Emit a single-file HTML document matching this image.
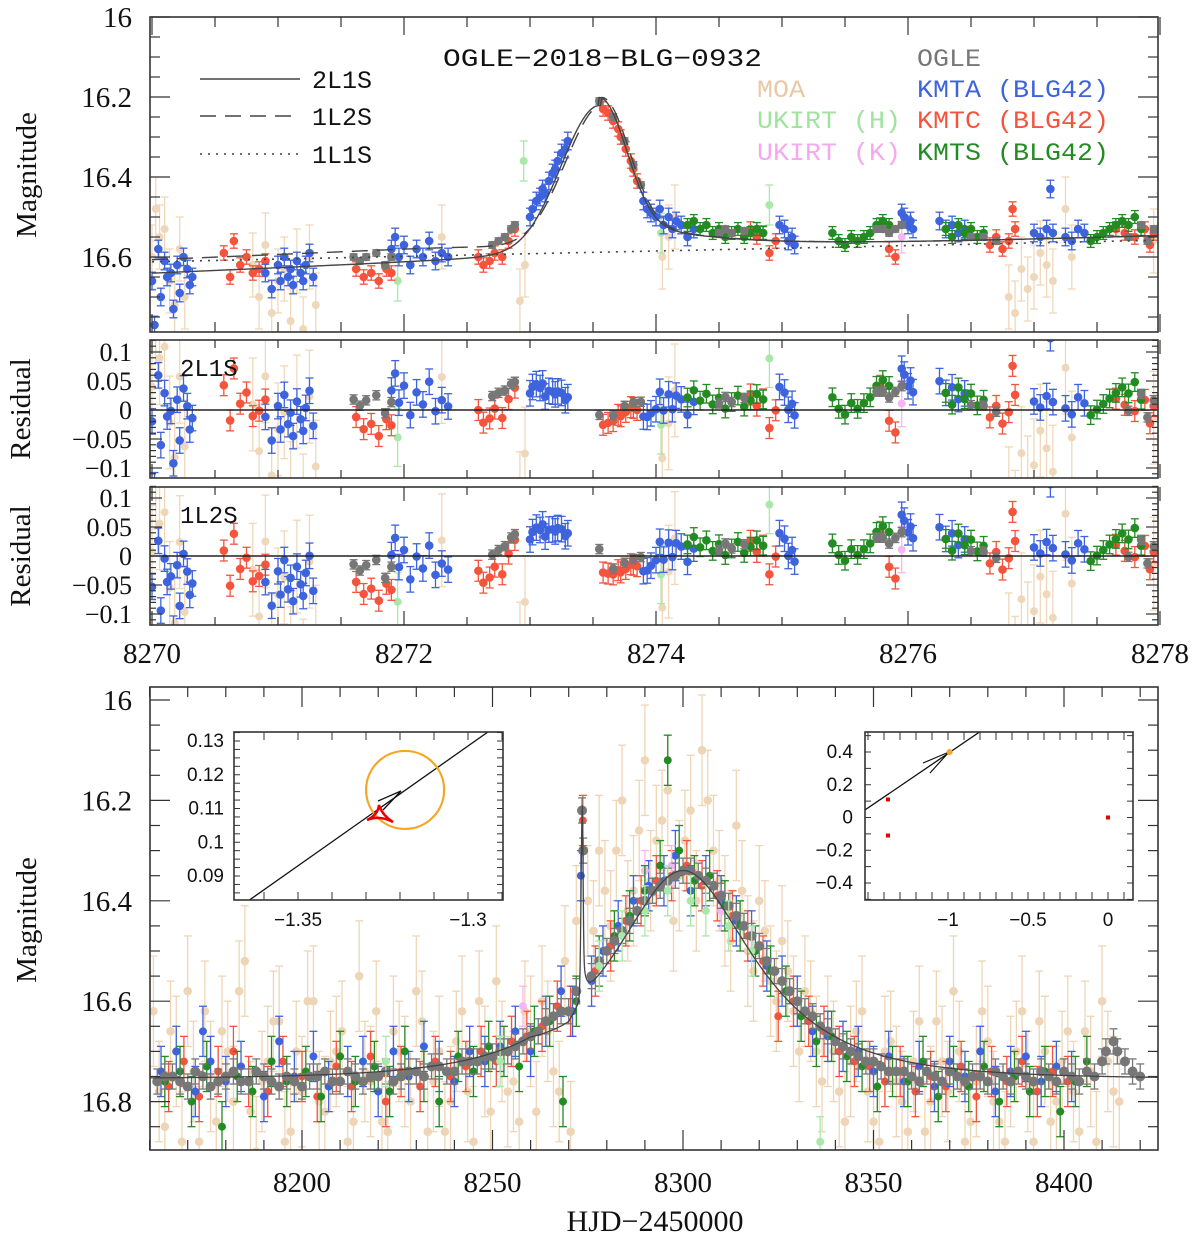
<!DOCTYPE html>
<html><head><meta charset="utf-8"><style>
html,body{margin:0;padding:0;background:#fff;}
svg{display:block;font-family:"Liberation Serif",serif;}
</style></head><body>
<svg id="fig" width="1200" height="1238" viewBox="0 0 1200 1238" xmlns="http://www.w3.org/2000/svg">
<defs>
<clipPath id="cTop"><rect x="150" y="17" width="1008" height="315"/></clipPath>
<clipPath id="cR1"><rect x="150" y="340" width="1008" height="138"/></clipPath>
<clipPath id="cR2"><rect x="150" y="487" width="1008" height="138"/></clipPath>
<clipPath id="cBot"><rect x="150" y="687" width="1008" height="463"/></clipPath>
<clipPath id="cIn1"><rect x="234" y="732" width="269" height="168"/></clipPath>
<clipPath id="cIn2"><rect x="865" y="732" width="268" height="168"/></clipPath>
</defs>
<g id="layers"></g>
</svg>
<script>
// ---------- data: top zoom panel (HJD-2450000, magnitude) ----------
const topOGLE=[[8271.6,16.6],[8271.65,16.61],[8271.7,16.6],[8271.78,16.59],[8271.85,16.62],[8271.9,16.6],[8272.7,16.57],[8272.75,16.56],[8272.8,16.55],[8272.85,16.53],[8272.88,16.52],[8273.55,16.21],[8273.66,16.25],[8273.75,16.31],[8273.82,16.37],[8273.88,16.42],[8274.5,16.54],[8274.55,16.53],[8274.6,16.54],[8274.7,16.535],[8275.75,16.53],[8275.8,16.53],[8275.85,16.54],[8275.9,16.53],[8275.95,16.52],[8276.5,16.55],[8276.6,16.55],[8276.7,16.56],[8277.75,16.55],[8277.85,16.52],[8277.9,16.56],[8277.95,16.53]];
const topMOA=[[8270.0,16.6],[8270.03,16.48],[8270.06,16.55],[8270.1,16.53],[8270.14,16.66],[8270.18,16.72],[8270.22,16.58],[8270.26,16.7],[8270.8,16.62],[8270.85,16.7],[8270.9,16.57],[8270.95,16.74],[8271.0,16.66],[8271.05,16.63],[8271.1,16.76],[8271.15,16.61],[8271.2,16.78],[8271.25,16.6],[8271.3,16.72],[8272.3,16.55],[8272.92,16.71],[8272.96,16.62],[8274.05,16.6],[8274.1,16.55],[8274.15,16.5],[8276.8,16.7],[8276.85,16.74],[8276.9,16.63],[8276.95,16.68],[8277.0,16.65],[8277.05,16.59],[8277.1,16.62],[8277.15,16.66],[8277.25,16.48],[8277.3,16.6],[8277.95,16.56],[8278.0,16.52]];
const topKMTA=[[8270.0,16.66],[8270.02,16.77],[8270.05,16.58],[8270.07,16.7],[8270.1,16.61],[8270.12,16.65],[8270.15,16.64],[8270.17,16.73],[8270.2,16.62],[8270.22,16.69],[8270.25,16.6],[8270.28,16.63],[8270.3,16.67],[8270.32,16.65],[8270.9,16.64],[8270.95,16.68],[8271.0,16.62],[8271.02,16.66],[8271.05,16.6],[8271.08,16.65],[8271.1,16.63],[8271.12,16.67],[8271.15,16.61],[8271.18,16.64],[8271.2,16.66],[8271.22,16.62],[8271.25,16.59],[8271.28,16.65],[8271.9,16.58],[8271.93,16.55],[8271.96,16.6],[8272.0,16.57],[8272.05,16.62],[8272.1,16.58],[8272.15,16.6],[8272.2,16.56],[8272.25,16.61],[8272.3,16.59],[8272.35,16.6],[8273.0,16.5],[8273.02,16.48],[8273.05,16.46],[8273.08,16.45],[8273.1,16.43],[8273.12,16.44],[8273.15,16.41],[8273.18,16.39],[8273.2,16.38],[8273.22,16.36],[8273.25,16.34],[8273.28,16.33],[8273.3,16.31],[8273.9,16.46],[8273.93,16.48],[8273.96,16.49],[8274.0,16.5],[8274.03,16.48],[8274.06,16.52],[8274.1,16.5],[8274.13,16.53],[8274.16,16.51],[8274.2,16.52],[8274.25,16.55],[8274.3,16.53],[8274.98,16.52],[8275.02,16.53],[8275.05,16.56],[8275.08,16.55],[8275.1,16.57],[8275.95,16.49],[8275.97,16.5],[8276.0,16.52],[8276.02,16.51],[8276.04,16.53],[8276.25,16.51],[8276.3,16.53],[8276.35,16.52],[8276.4,16.54],[8276.45,16.53],[8277.0,16.54],[8277.05,16.55],[8277.1,16.53],[8277.15,16.54],[8277.13,16.43],[8277.25,16.55],[8277.3,16.56],[8277.35,16.53],[8277.4,16.54]];
const topKMTC=[[8270.57,16.59],[8270.62,16.65],[8270.65,16.56],[8270.7,16.62],[8270.75,16.6],[8270.8,16.64],[8270.85,16.63],[8270.9,16.61],[8271.62,16.63],[8271.68,16.65],[8271.74,16.64],[8271.8,16.66],[8271.86,16.63],[8271.9,16.64],[8272.59,16.6],[8272.63,16.62],[8272.68,16.61],[8272.72,16.59],[8272.78,16.6],[8272.83,16.56],[8272.88,16.53],[8273.58,16.23],[8273.62,16.24],[8273.66,16.26],[8273.7,16.28],[8273.72,16.3],[8273.76,16.33],[8273.8,16.36],[8273.82,16.38],[8273.85,16.41],[8274.75,16.53],[8274.8,16.55],[8274.85,16.54],[8274.9,16.59],[8274.95,16.56],[8275.78,16.52],[8275.85,16.58],[8275.9,16.6],[8276.65,16.57],[8276.7,16.55],[8276.75,16.58],[8276.8,16.56],[8276.83,16.48],[8276.85,16.53],[8277.65,16.53],[8277.72,16.54],[8277.8,16.55],[8277.88,16.53],[8277.92,16.57],[8277.95,16.54]];
const topKMTS=[[8274.25,16.52],[8274.3,16.51],[8274.35,16.53],[8274.4,16.52],[8274.45,16.54],[8274.5,16.53],[8274.55,16.55],[8274.6,16.54],[8274.65,16.53],[8274.7,16.55],[8274.75,16.54],[8274.8,16.53],[8274.85,16.54],[8275.4,16.54],[8275.45,16.56],[8275.5,16.57],[8275.55,16.55],[8275.6,16.56],[8275.65,16.55],[8275.7,16.54],[8275.75,16.52],[8275.8,16.51],[8275.85,16.52],[8276.3,16.53],[8276.35,16.55],[8276.4,16.52],[8276.45,16.54],[8276.5,16.53],[8276.55,16.55],[8276.6,16.54],[8277.45,16.56],[8277.5,16.55],[8277.55,16.54],[8277.6,16.53],[8277.65,16.52],[8277.7,16.51],[8277.75,16.52],[8277.8,16.5],[8277.85,16.53]];
const topUKH=[[8271.95,16.66],[8272.95,16.36],[8274.04,16.54],[8274.9,16.47]];
const topUKK=[[8275.95,16.55]];
// ---------- data: full season panel ----------
const botOGLE=[[8162,16.76],[8166,16.75],[8170,16.77],[8174,16.75],[8178,16.76],[8182,16.74],[8186,16.76],[8190,16.75],[8194,16.77],[8198,16.76],[8202,16.75],[8206,16.74],[8210,16.76],[8214,16.75],[8218,16.75],[8222,16.74],[8226,16.75],[8230,16.74],[8234,16.73],[8238,16.74],[8242,16.72],[8246,16.72],[8250,16.71],[8254,16.70],[8258,16.68],[8262,16.66],[8266,16.63],[8270,16.62],[8273.5,16.22],[8276,16.55],[8280,16.50],[8284,16.46],[8288,16.42],[8292,16.38],[8296,16.36],[8300,16.34],[8304,16.35],[8308,16.37],[8312,16.41],[8316,16.45],[8320,16.49],[8324,16.54],[8328,16.58],[8332,16.62],[8336,16.65],[8340,16.68],[8344,16.70],[8348,16.72],[8352,16.73],[8356,16.74],[8360,16.75],[8364,16.74],[8368,16.76],[8372,16.75],[8376,16.75],[8380,16.76],[8384,16.75],[8388,16.74],[8392,16.76],[8396,16.75],[8400,16.74],[8404,16.76],[8408,16.75],[8411,16.70],[8413,16.68],[8416,16.72],[8420,16.75]];
const botOGLE2=[[8164,16.75],[8168,16.76],[8172,16.74],[8176,16.77],[8180,16.75],[8184,16.76],[8188,16.74],[8192,16.76],[8196,16.75],[8200,16.77],[8204,16.75],[8208,16.76],[8212,16.74],[8216,16.76],[8220,16.75],[8224,16.76],[8228,16.74],[8232,16.75],[8236,16.73],[8240,16.74],[8244,16.72],[8248,16.71],[8252,16.70],[8256,16.69],[8260,16.67],[8264,16.64],[8268,16.62],[8272,16.58],[8273.8,16.3],[8278,16.52],[8282,16.48],[8286,16.44],[8290,16.40],[8294,16.37],[8298,16.35],[8302,16.34],[8306,16.36],[8310,16.39],[8314,16.43],[8318,16.47],[8322,16.52],[8326,16.56],[8330,16.60],[8334,16.63],[8338,16.66],[8342,16.69],[8346,16.71],[8350,16.72],[8354,16.74],[8358,16.74],[8362,16.76],[8366,16.75],[8370,16.74],[8374,16.76],[8378,16.75],[8382,16.74],[8386,16.76],[8390,16.75],[8394,16.74],[8398,16.76],[8402,16.75],[8406,16.74],[8410,16.72],[8414,16.70],[8418,16.74]];
const botMOA=[[8161,16.62],[8164,16.85],[8167,16.70],[8170,16.58],[8173,16.88],[8176,16.75],[8179,16.66],[8182,16.80],[8185,16.52],[8188,16.90],[8191,16.72],[8194,16.64],[8197,16.86],[8200,16.78],[8203,16.60],[8206,16.82],[8209,16.70],[8212,16.88],[8215,16.55],[8218,16.76],[8221,16.84],[8224,16.66],[8227,16.74],[8230,16.58],[8233,16.86],[8236,16.70],[8239,16.80],[8242,16.62],[8245,16.88],[8248,16.72],[8251,16.56],[8254,16.78],[8257,16.84],[8260,16.66],[8263,16.60],[8266,16.74],[8269,16.52],[8272,16.44],[8275,16.40],[8278,16.30],[8281,16.45],[8284,16.20],[8287,16.38],[8290,16.12],[8293,16.28],[8296,16.18],[8299,16.35],[8302,16.22],[8305,16.10],[8308,16.30],[8311,16.42],[8314,16.25],[8317,16.50],[8320,16.40],[8323,16.56],[8326,16.48],[8329,16.62],[8332,16.58],[8335,16.70],[8338,16.66],[8341,16.78],[8344,16.72],[8347,16.62],[8350,16.84],[8353,16.70],[8356,16.76],[8359,16.86],[8362,16.64],[8365,16.80],[8368,16.72],[8371,16.58],[8374,16.88],[8377,16.76],[8380,16.68],[8383,16.84],[8386,16.74],[8389,16.62],[8392,16.88],[8395,16.70],[8398,16.80],[8401,16.66],[8404,16.86],[8407,16.74],[8410,16.60],[8413,16.78]];
const botMOA2=[[8162.5,16.78],[8165.5,16.66],[8168.5,16.88],[8171.5,16.74],[8174.5,16.62],[8177.5,16.84],[8180.5,16.70],[8183.5,16.58],[8186.5,16.82],[8189.5,16.76],[8192.5,16.64],[8195.5,16.88],[8198.5,16.70],[8201.5,16.60],[8204.5,16.80],[8207.5,16.72],[8210.5,16.66],[8213.5,16.84],[8216.5,16.74],[8219.5,16.62],[8222.5,16.86],[8225.5,16.70],[8228.5,16.80],[8231.5,16.64],[8234.5,16.76],[8237.5,16.86],[8240.5,16.68],[8243.5,16.78],[8246.5,16.60],[8249.5,16.82],[8252.5,16.70],[8255.5,16.76],[8258.5,16.62],[8261.5,16.82],[8264.5,16.66],[8267.5,16.78],[8270.5,16.86],[8276.5,16.46],[8279.5,16.38],[8282.5,16.30],[8285.5,16.42],[8288.5,16.26],[8291.5,16.36],[8294.5,16.24],[8297.5,16.44],[8300.5,16.28],[8303.5,16.40],[8306.5,16.20],[8309.5,16.36],[8312.5,16.48],[8315.5,16.38],[8318.5,16.54],[8321.5,16.46],[8324.5,16.60],[8327.5,16.54],[8330.5,16.70],[8333.5,16.62],[8336.5,16.76],[8339.5,16.70],[8342.5,16.84],[8345.5,16.66],[8348.5,16.78],[8351.5,16.88],[8354.5,16.68],[8357.5,16.80],[8360.5,16.72],[8363.5,16.86],[8366.5,16.64],[8369.5,16.78],[8372.5,16.70],[8375.5,16.84],[8378.5,16.62],[8381.5,16.80],[8384.5,16.88],[8387.5,16.70],[8390.5,16.76],[8393.5,16.64],[8396.5,16.84],[8399.5,16.72],[8402.5,16.78],[8405.5,16.66],[8408.5,16.88],[8411.5,16.72],[8414.5,16.80]];
const botKMTA=[[8163,16.74],[8167,16.70],[8172,16.78],[8174,16.66],[8176,16.72],[8180,16.76],[8184,16.73],[8190,16.79],[8194,16.68],[8198,16.75],[8203,16.71],[8207,16.77],[8212,16.74],[8216,16.72],[8220,16.78],[8224,16.70],[8228,16.75],[8232,16.69],[8236,16.73],[8240,16.76],[8244,16.70],[8248,16.72],[8252,16.69],[8256,16.66],[8260,16.70],[8264,16.64],[8268,16.58],[8271,16.62],[8273.2,16.35],[8276,16.56],[8279,16.50],[8283,16.45],[8287,16.40],[8291,16.37],[8295,16.36],[8298,16.31],[8302,16.38],[8306,16.36],[8310,16.40],[8314,16.44],[8318,16.47],[8322,16.53],[8326,16.56],[8330,16.60],[8334,16.66],[8338,16.67],[8342,16.69],[8346,16.70],[8350,16.74],[8354,16.71],[8358,16.76],[8362,16.73],[8366,16.77],[8370,16.72],[8374,16.75],[8378,16.70],[8382,16.78],[8386,16.74],[8390,16.71],[8394,16.76],[8398,16.73],[8402,16.75]];
const botKMTC=[[8165,16.77],[8169,16.72],[8173,16.79],[8178,16.74],[8182,16.70],[8186,16.76],[8191,16.78],[8195,16.72],[8200,16.75],[8204,16.79],[8209,16.73],[8213,16.77],[8218,16.71],[8222,16.80],[8226,16.74],[8231,16.77],[8235,16.72],[8239,16.75],[8243,16.73],[8247,16.70],[8251,16.72],[8255,16.68],[8259,16.67],[8263,16.65],[8267,16.61],[8270.5,16.62],[8273.7,16.24],[8277,16.54],[8281,16.49],[8285,16.44],[8289,16.40],[8293,16.36],[8297,16.35],[8301,16.33],[8305,16.37],[8309,16.39],[8313,16.43],[8317,16.47],[8321,16.52],[8325,16.63],[8329,16.60],[8333,16.64],[8337,16.66],[8341,16.70],[8345,16.72],[8349,16.73],[8353,16.76],[8357,16.74],[8361,16.78],[8365,16.75],[8369,16.77],[8373,16.73],[8377,16.79],[8381,16.74],[8385,16.76],[8389,16.72],[8393,16.78],[8397,16.74],[8401,16.76]];
const botKMTS=[[8164,16.76],[8168,16.74],[8171,16.80],[8175,16.73],[8179,16.85],[8183,16.75],[8187,16.78],[8192,16.72],[8196,16.76],[8201,16.74],[8205,16.79],[8210,16.71],[8214,16.76],[8219,16.73],[8223,16.78],[8227,16.70],[8232,16.75],[8236,16.80],[8241,16.71],[8245,16.74],[8249,16.69],[8253,16.70],[8257,16.73],[8261,16.66],[8265,16.64],[8268.5,16.80],[8272,16.60],[8278,16.52],[8282,16.47],[8286,16.43],[8290,16.38],[8294,16.33],[8296,16.12],[8299,16.30],[8303,16.36],[8307,16.35],[8311,16.41],[8315,16.45],[8319,16.50],[8323,16.54],[8327,16.58],[8331,16.63],[8335,16.68],[8339,16.67],[8343,16.71],[8347,16.73],[8351,16.77],[8355,16.74],[8359,16.76],[8363,16.72],[8367,16.79],[8371,16.74],[8375,16.77],[8379,16.73],[8383,16.80],[8387,16.75],[8391,16.78],[8395,16.74],[8399,16.82],[8403,16.76],[8406,16.72]];
const botUKH=[[8222,16.72],[8252,16.72],[8278,16.53],[8284,16.47],[8290,16.42],[8296,16.38],[8302,16.40],[8306,16.42],[8312,16.45],[8318,16.50],[8336,16.88]];
const botUKK=[[8258,16.61],[8290,16.34],[8297,16.33],[8303,16.36],[8310,16.42]];
// tick labels
const topYTicks=[16,16.2,16.4,16.6];
const resTicks=[0.1,0.05,0,-0.05,-0.1];
const topXTicks=[8270,8272,8274,8276,8278];
const botXTicks=[8200,8250,8300,8350,8400];
const botYTicks=[16,16.2,16.4,16.6,16.8];
const in1XTicks=[-1.35,-1.3];
const in1YTicks=[0.13,0.12,0.11,0.1,0.09];
const in2XTicks=[-1,-0.5,0];
const in2YTicks=[0.4,0.2,0,-0.2,-0.4];
const in2Caustic=[[-1.375,0.11],[-1.375,-0.11],[0,0]];

// ---------- models ----------
function pacA(u){return (u*u+2)/(u*Math.sqrt(u*u+4));}
function broadE(t){const d=(t-8300)/31;const u=Math.sqrt(0.36+d*d);return 0.527*(pacA(u)-1);}
function corr(t){return t<8270?-0.025*Math.max(0,1-(8270-t)/10):-0.025*Math.max(0,1-(t-8270)/4);}
function lor(d,w,a){return a/(1+(d/w)*(d/w));}
function gau(d,s,a){return a*Math.exp(-d*d/(2*s*s));}
function bump2(t){const d=t-8273.55;return d<0?gau(d,0.286,0.423)+lor(d,0.3,0.05):gau(d,0.2,0.423)+lor(d,0.8,0.08);}
function bump1(t){const d=t-8273.57;return d<0?gau(d,0.28,0.42)+lor(d,0.25,0.05):gau(d,0.2,0.42)+lor(d,0.8,0.08);}
function m2L1S(t){return 16.755-2.5*Math.log10(1+broadE(t)+corr(t)+bump2(t));}
function m1L2S(t){return 16.755-2.5*Math.log10(1+broadE(t)+corr(t)+0.035/(1+Math.exp((t-8273.0)/0.25))+bump1(t));}
function m1L1S(t){return 16.612-0.00675*(t-8270);}

// ---------- scales ----------
const xT=t=>152+(t-8270)*126;
const yT=m=>17+(m-16)*400;
const yR1=r=>410-r*580;
const yR2=r=>556-r*580;
const xB=t=>302+(t-8200)*3.81;
const yB=m=>700+(m-16)*502;
const xI1=v=>298+(v+1.35)*3400;
const yI1=v=>741-(v-0.13)*3375;
const xI2=v=>948+(v+1)*160;
const yI2=v=>817.5-v*163.75;

const NS='http://www.w3.org/2000/svg';
const root=document.getElementById('layers');
function el(tag,attrs,parent){const e=document.createElementNS(NS,tag);for(const k in attrs)e.setAttribute(k,attrs[k]);(parent||root).appendChild(e);return e;}
function grp(name){const g=el('g',{});


return g;}

const COL={OGLE:'#777777',MOA:'#eed3b3',KMTA:'#3d63dd',KMTC:'#f5543c',KMTS:'#228b22',UKH:'#a9e8a9',UKK:'#f7b6f3'};

function drawPts(g,data,xf,yf,valf,col,err,r,op){
  for(const p of data){
    const x=xf(p[0]),v=valf(p),y=yf(v),e=Math.abs(yf(v+err)-y);
    const pg=el('g',{stroke:col,fill:col,'stroke-width':1.3,opacity:op||1},g);
    
    
    el('line',{x1:x,y1:y-e,x2:x,y2:y+e},pg);
    el('line',{x1:x-4,y1:y-e,x2:x+4,y2:y-e},pg);
    el('line',{x1:x-4,y1:y+e,x2:x+4,y2:y+e},pg);
    el('circle',{cx:x,cy:y,r:r,stroke:'none'},pg);
  }
}
function curve(g,f,t0,t1,n,xf,yf,style){
  let d='';for(let i=0;i<=n;i++){const t=t0+(t1-t0)*i/n;d+=(i?'L':'M')+xf(t).toFixed(2)+','+yf(f(t)).toFixed(2);}
  return el('path',Object.assign({d:d,fill:'none'},style),g);
}
function text(g,x,y,s,size,anchor,fill,fam,name,extra){
  const t=el('text',Object.assign({x:x,y:y,'font-size':size,'text-anchor':anchor||'start',fill:fill||'#111','font-family':fam||'"Liberation Serif",serif'},extra||{}),g);
  t.textContent=s;
  
  
  return t;
}
function frame(g,x,y,w,h){el('rect',{x:x,y:y,width:w,height:h,fill:'none',stroke:'#333','stroke-width':1.6},g);}
function ticksX(g,xf,from,to,step,majEvery,y0,y1,len,majLen,both){
  const n=Math.round((to-from)/step);
  for(let i=0;i<=n;i++){const v=from+i*step;const x=xf(v);const maj=Math.abs(v/majEvery-Math.round(v/majEvery))<1e-6;const L=maj?majLen:len;
    el('line',{x1:x,y1:y1,x2:x,y2:y1-L,stroke:'#333','stroke-width':1.2},g);
    if(both)el('line',{x1:x,y1:y0,x2:x,y2:y0+L,stroke:'#333','stroke-width':1.2},g);}
}
function ticksY(g,yf,from,to,step,majEvery,x0,x1,len,majLen){
  const n=Math.round((to-from)/step);
  for(let i=0;i<=n;i++){const v=from+i*step;const y=yf(v);const maj=Math.abs(v/majEvery-Math.round(v/majEvery))<1e-6;const L=maj?majLen:len;
    el('line',{x1:x0,y1:y,x2:x0+L,y2:y,stroke:'#333','stroke-width':1.2},g);
    el('line',{x1:x1,y1:y,x2:x1-L,y2:y,stroke:'#333','stroke-width':1.2},g);}
}
const fmt=v=>(v<0?'\u2212':'')+String(Math.abs(v));

// ================= TOP PANEL =================
const gTopD=grp('top-data');gTopD.setAttribute('clip-path','url(#cTop)');
drawPts(gTopD,topMOA,xT,yT,p=>p[1],COL.MOA,0.08,4,0.9);
drawPts(gTopD,topUKH,xT,yT,p=>p[1],COL.UKH,0.05,4);
drawPts(gTopD,topUKK,xT,yT,p=>p[1],COL.UKK,0.04,4);
drawPts(gTopD,topKMTC,xT,yT,p=>p[1],COL.KMTC,0.018,4.3);
drawPts(gTopD,topKMTA,xT,yT,p=>p[1],COL.KMTA,0.022,4.3);
drawPts(gTopD,topKMTS,xT,yT,p=>p[1],COL.KMTS,0.016,4.3);
drawPts(gTopD,topOGLE,xT,yT,p=>p[1],COL.OGLE,0.008,4.3);
const c1=curve(gTopD,m2L1S,8270,8278,800,xT,yT,{stroke:'#444','stroke-width':1.4});

const c2=curve(gTopD,m1L2S,8270,8278,800,xT,yT,{stroke:'#444','stroke-width':1.4,'stroke-dasharray':'16,9'});

const c3=curve(gTopD,m1L1S,8270,8278,10,xT,yT,{stroke:'#444','stroke-width':1.6,'stroke-dasharray':'2,6'});

const gTop=grp('top-zoom-panel');
frame(gTop,150,17,1008,315);
ticksX(gTop,xT,8270,8278,0.5,2,17,332,10,18,true);
ticksY(gTop,yT,16,16.75,0.05,0.2,150,1158,10,20);
for(const v of topYTicks)text(gTop,132,yT(v)+10,String(v),29,'end','#111',null,'y-tick-label');
text(gTop,0,0,'Magnitude',29,'middle','#111',null,'y-axis-title',{transform:'translate(36,175) rotate(-90)'});
const lg=[['2L1S','none',82],['1L2S','16,9',119],['1L1S','2,6',157]];
for(const l of lg){const ln=el('line',{x1:200,y1:l[2]-3,x2:300,y2:l[2]-3,stroke:'#444','stroke-width':1.5,'stroke-dasharray':l[1]},gTop);

text(gTop,312,l[2]+6,l[0],25,'start','#111','"Liberation Mono",monospace','legend-model-label');}
text(gTop,443,66,'OGLE\u22122018\u2212BLG\u22120932',25,'start','#111','"Liberation Mono",monospace','chart-title',{textLength:319,lengthAdjust:'spacingAndGlyphs'});
const dl=[['OGLE',917,66,COL.OGLE],['MOA',757,97,'#e8c9a6'],['KMTA (BLG42)',917,97,COL.KMTA],['UKIRT (H)',757,128,'#9fe39f'],['KMTC (BLG42)',917,128,COL.KMTC],['UKIRT (K)',757,160,'#f5a8f0'],['KMTS (BLG42)',917,160,COL.KMTS]];
for(const d of dl)text(gTop,d[1],d[2],d[0],25,'start',d[3],'"Liberation Mono",monospace','legend-dataset-label',{textLength:d[0].length*16,lengthAdjust:'spacingAndGlyphs'});

// ================= RESIDUAL PANELS =================
function resPanel(name,clip,yf,model,y0,label){
  const gD=grp(name+'-data');gD.setAttribute('clip-path','url(#'+clip+')');
  const rv=p=>model(p[0])-p[1];
  const ry=v=>yf(-v);
  drawPts(gD,topMOA,xT,ry,p=>-rv(p),COL.MOA,0.08,4,0.9);
  drawPts(gD,topUKH,xT,ry,p=>-rv(p),COL.UKH,0.05,4);
  drawPts(gD,topUKK,xT,ry,p=>-rv(p),COL.UKK,0.04,4);
  drawPts(gD,topKMTC,xT,ry,p=>-rv(p),COL.KMTC,0.018,4.3);
  drawPts(gD,topKMTA,xT,ry,p=>-rv(p),COL.KMTA,0.022,4.3);
  drawPts(gD,topKMTS,xT,ry,p=>-rv(p),COL.KMTS,0.016,4.3);
  drawPts(gD,topOGLE,xT,ry,p=>-rv(p),COL.OGLE,0.008,4.3);
  const g=grp(name);
  el('line',{x1:150,y1:yf(0),x2:1158,y2:yf(0),stroke:'#222','stroke-width':1.5},g);
  frame(g,150,y0,1008,138);
  ticksX(g,xT,8270,8278,0.5,2,y0,y0+138,8,14,true);
  ticksY(g,yf,-0.11,0.12,0.01,0.05,150,1158,6,12);
  for(const v of resTicks)text(g,132,yf(v)+9,fmt(v),26,'end','#111',null,'residual-tick-label');
  text(g,0,0,'Residual',29,'middle','#111',null,'residual-axis-title',{transform:'translate(30,'+(y0+69)+') rotate(-90)'});
  text(g,180,y0+36,label,24,'start','#111','"Liberation Mono",monospace','residual-model-label');
}
resPanel('residual-2l1s-panel','cR1',yR1,m2L1S,340,'2L1S');
resPanel('residual-1l2s-panel','cR2',yR2,m1L2S,487,'1L2S');
const gXT=grp('top-x-axis');
for(const v of topXTicks)text(gXT,xT(v),663,String(v),29,'middle','#111',null,'x-tick-label');

// ================= BOTTOM PANEL =================
const gBD=grp('bottom-data');gBD.setAttribute('clip-path','url(#cBot)');
drawPts(gBD,botMOA,xB,yB,p=>p[1],COL.MOA,0.11,4.3,0.95);
drawPts(gBD,botMOA2,xB,yB,p=>p[1],COL.MOA,0.1,4.3,0.95);
drawPts(gBD,botKMTC,xB,yB,p=>p[1],COL.KMTC,0.05,4);
drawPts(gBD,botKMTA,xB,yB,p=>p[1],COL.KMTA,0.05,4);
drawPts(gBD,botUKK,xB,yB,p=>p[1],COL.UKK,0.04,4);
drawPts(gBD,botKMTS,xB,yB,p=>p[1],COL.KMTS,0.05,4);
drawPts(gBD,botOGLE,xB,yB,p=>p[1],COL.OGLE,0.025,5);
drawPts(gBD,botOGLE2,xB,yB,p=>p[1],COL.OGLE,0.025,5);
drawPts(gBD,botUKH,xB,yB,p=>p[1],COL.UKH,0.05,4);
const cb=curve(gBD,m2L1S,8160,8425,2650,xB,yB,{stroke:'#444','stroke-width':1.3});

const gB=grp('bottom-full-panel');
frame(gB,150,687,1008,463);
ticksX(gB,xB,8160,8420,10,50,687,1150,10,20,true);
ticksY(gB,yB,16,16.85,0.05,0.2,150,1158,10,20);
for(const v of botYTicks)text(gB,132,yB(v)+10,String(v),29,'end','#111',null,'y-tick-label');
for(const v of botXTicks)text(gB,xB(v),1192,String(v),29,'middle','#111',null,'x-tick-label');
text(gB,655,1231,'HJD\u22122450000',30,'middle','#111',null,'x-axis-title');
text(gB,0,0,'Magnitude',29,'middle','#111',null,'y-axis-title',{transform:'translate(36,920) rotate(-90)'});

// ---- inset 1 (caustic zoom) ----
const gI1=grp('inset-caustic-zoom');
el('rect',{x:234,y:732,width:269,height:168,fill:'#fff'},gI1);
const gI1c=el('g',{'clip-path':'url(#cIn1)'},gI1);
el('line',{x1:xI1(-1.3644),y1:yI1(0.0828),x2:xI1(-1.2941),y2:yI1(0.1327),stroke:'#111','stroke-width':1.3},gI1c);
el('circle',{cx:xI1(-1.3185),cy:yI1(0.1155),r:39,fill:'none',stroke:'#f5a623','stroke-width':2.2},gI1c);
el('path',{d:'M367,820 Q380,815 393,822 Q382,815 379,805 Q378,815 367,820 Z',fill:'none',stroke:'#e80000','stroke-width':2.5},gI1c);
el('path',{d:'M378,801 L401,791 L383,810',fill:'none',stroke:'#111','stroke-width':1.3},gI1c);
frame(gI1,234,732,269,168);
for(let v=-1.36;v<=-1.29;v+=0.01){const x=xI1(v);el('line',{x1:x,y1:900,x2:x,y2:892,stroke:'#333'},gI1);el('line',{x1:x,y1:732,x2:x,y2:740,stroke:'#333'},gI1);}
for(let v=0.085;v<=0.1326;v+=0.0025){const y=yI1(v);el('line',{x1:234,y1:y,x2:240,y2:y,stroke:'#333'},gI1);el('line',{x1:503,y1:y,x2:497,y2:y,stroke:'#333'},gI1);}
for(const v of in1XTicks)text(gI1,xI1(v),926,fmt(v),19,'middle','#111','"Liberation Sans",sans-serif','inset-x-tick-label');
for(const v of in1YTicks)text(gI1,224,yI1(v)+6,String(v),19,'end','#111','"Liberation Sans",sans-serif','inset-y-tick-label');

// ---- inset 2 (full caustic) ----
const gI2=grp('inset-full-caustic');
el('rect',{x:865,y:732,width:268,height:168,fill:'#fff'},gI2);
const gI2c=el('g',{'clip-path':'url(#cIn2)'},gI2);
el('line',{x1:xI2(-1.519),y1:yI2(0.046),x2:xI2(-0.806),y2:yI2(0.52),stroke:'#111','stroke-width':1.3},gI2c);
el('path',{d:'M923,763 L949,752 L930,773',fill:'none',stroke:'#111','stroke-width':1.2},gI2c);
el('circle',{cx:xI2(-0.99),cy:yI2(0.4),r:3,fill:'#f5a623'},gI2c);
for(const c of in2Caustic){const s=el('rect',{x:xI2(c[0])-2,y:yI2(c[1])-2,width:4,height:4,fill:'#e80000'},gI2c);
}
frame(gI2,865,732,268,168);
for(let v=-1.5;v<=0.15;v+=0.1){const x=xI2(v);el('line',{x1:x,y1:900,x2:x,y2:892,stroke:'#333'},gI2);el('line',{x1:x,y1:732,x2:x,y2:740,stroke:'#333'},gI2);}
for(let v=-0.5;v<=0.5;v+=0.1){const y=yI2(v);el('line',{x1:865,y1:y,x2:871,y2:y,stroke:'#333'},gI2);el('line',{x1:1133,y1:y,x2:1127,y2:y,stroke:'#333'},gI2);}
for(const v of in2XTicks)text(gI2,xI2(v),926,fmt(v),19,'middle','#111','"Liberation Sans",sans-serif','inset-x-tick-label');
for(const v of in2YTicks)text(gI2,853,yI2(v)+6,fmt(v),19,'end','#111','"Liberation Sans",sans-serif','inset-y-tick-label');
</script>
</body></html>
